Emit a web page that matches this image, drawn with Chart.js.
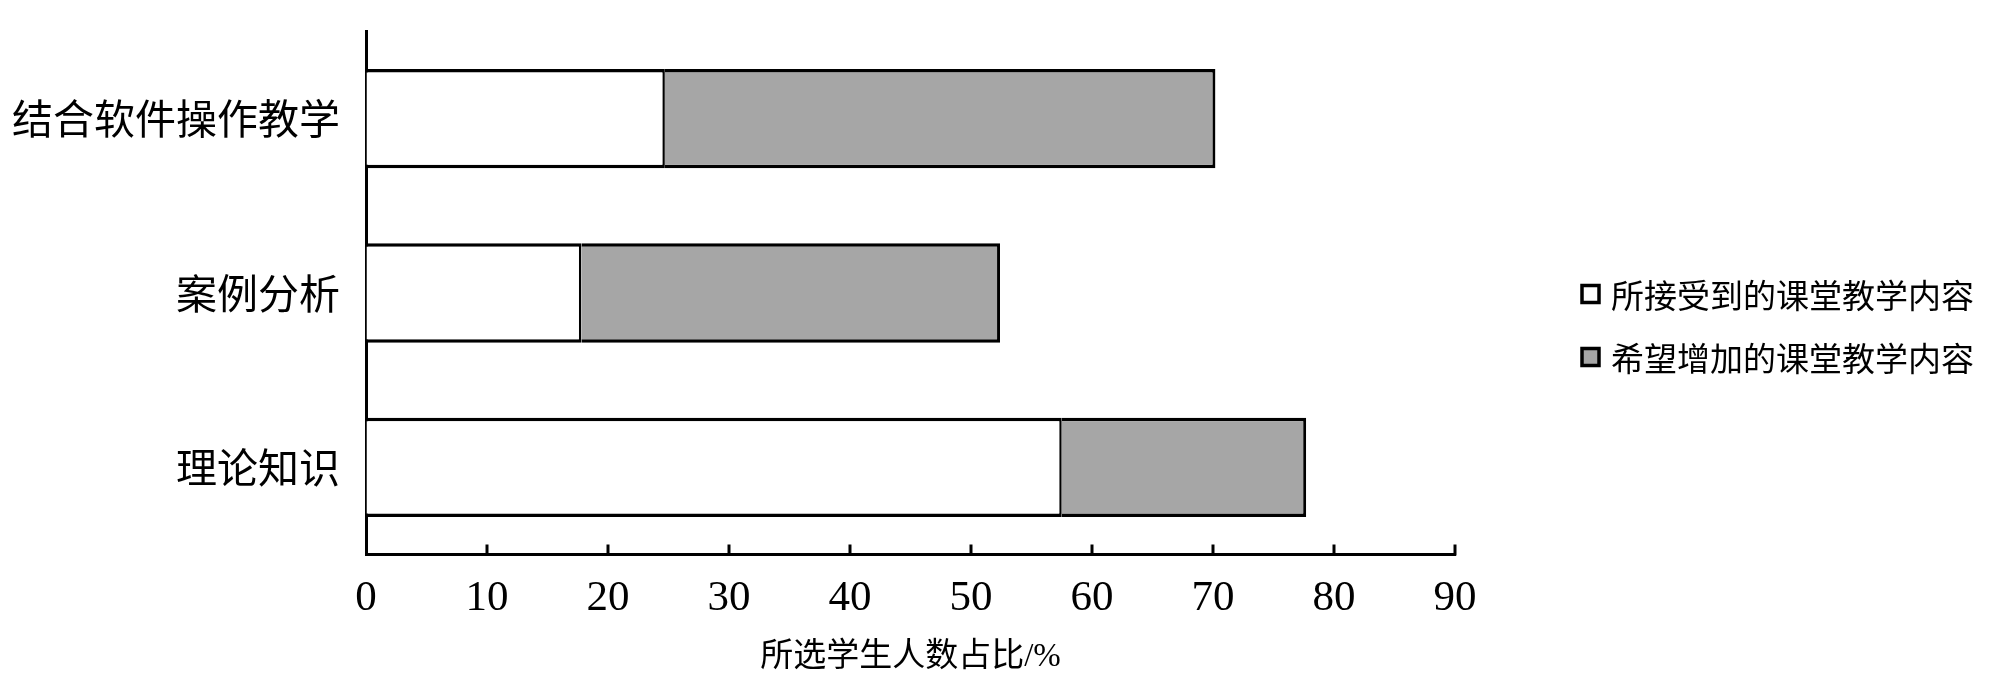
<!DOCTYPE html>
<html>
<head>
<meta charset="utf-8">
<script src="https://cdn.jsdelivr.net/npm/chart.js@4.4.1/dist/chart.umd.min.js"></script>
<style>
  html, body { margin: 0; padding: 0; background: #ffffff; }
  #wrap { width: 2000px; height: 681px; position: relative; }
</style>
</head>
<body>
<div id="wrap"><canvas id="c" width="2000" height="681"></canvas></div>
<script>
// ---- data ----
const categories = ['结合软件操作教学', '案例分析', '理论知识'];
const receivedValues = [24.7, 17.8, 57.5];
const desiredValues = [45.5, 34.6, 20.2];
const seriesNames = ['所接受到的课堂教学内容', '希望增加的课堂教学内容'];
const xTickValues = [0, 10, 20, 30, 40, 50, 60, 70, 80, 90];
const xTitle = '所选学生人数占比/%';

const CJK = "'Noto Sans CJK SC', 'Noto Sans', sans-serif";
const SERIF = "'Liberation Serif', 'Noto Sans CJK SC', serif";
const GRAY = '#a6a6a6';

// inner tick marks on x axis (upward from axis line)
const innerTicks = {
  id: 'innerTicks',
  afterDraw(chart) {
    const xs = chart.scales.x;
    const ctx = chart.ctx;
    const bottom = chart.chartArea.bottom;
    ctx.save();
    ctx.strokeStyle = '#000';
    ctx.lineWidth = 3;
    xTickValues.forEach(v => {
      if (v === 0) return;
      const px = xs.getPixelForValue(v);
      ctx.beginPath();
      ctx.moveTo(px, bottom + 1);
      ctx.lineTo(px, bottom - 10);
      ctx.stroke();
    });
    ctx.restore();
  }
};

// legend at the right side
const sideLegend = {
  id: 'sideLegend',
  afterDraw(chart) {
    const ctx = chart.ctx;
    const area = chart.chartArea;
    const cy = (area.top + area.bottom) / 2;
    const x0 = area.right + 127;
    const rows = [cy + 1, cy + 64];
    ctx.save();
    chart.data.datasets.forEach((ds, i) => {
      const y = rows[i];
      ctx.fillStyle = ds.backgroundColor;
      ctx.fillRect(x0, y - 8.5, 17, 17);
      ctx.lineWidth = 3.5;
      ctx.strokeStyle = '#000';
      ctx.strokeRect(x0, y - 8.5, 17, 17);
      ctx.fillStyle = '#000';
      ctx.font = "33px " + CJK;
      ctx.textBaseline = 'middle';
      ctx.textAlign = 'left';
      ctx.fillText(ds.label, x0 + 29, y + 1);
    });
    ctx.restore();
  }
};

new Chart(document.getElementById('c'), {
  type: 'bar',
  data: {
    labels: categories,
    datasets: [
      {
        label: seriesNames[0],
        data: receivedValues,
        backgroundColor: '#ffffff',
        borderColor: '#000000',
        borderWidth: { top: 3.5, bottom: 3.5, left: 0, right: 2.5 },
        borderSkipped: 'left'
      },
      {
        label: seriesNames[1],
        data: desiredValues,
        backgroundColor: GRAY,
        borderColor: '#000000',
        borderWidth: { top: 3.5, bottom: 3.5, left: 0, right: 3 },
        borderSkipped: 'left'
      }
    ]
  },
  options: {
    indexAxis: 'y',
    responsive: false,
    animation: false,
    maintainAspectRatio: false,
    devicePixelRatio: 1,
    barPercentage: 0.57,
    categoryPercentage: 1,
    layout: { padding: { left: 12, right: 545, top: 31.5, bottom: 0 } },
    plugins: {
      legend: { display: false },
      tooltip: { enabled: false },
      title: { display: false }
    },
    scales: {
      x: {
        type: 'linear',
        stacked: true,
        min: 0,
        max: 90,
        afterBuildTicks(scale) {
          scale.ticks = xTickValues.map(v => ({ value: v }));
        },
        afterFit(scale) { scale.height = 126.5; },
        grid: { display: true, drawOnChartArea: false, drawTicks: false, color: 'rgba(0,0,0,0)' },
        border: { display: true, color: '#000', width: 3 },
        ticks: {
          color: '#000',
          font: { family: SERIF, size: 43, lineHeight: 1 },
          padding: 23,
          maxRotation: 0,
          autoSkip: false
        },
        title: {
          display: true,
          text: xTitle,
          color: '#000',
          font: { family: SERIF, size: 33, lineHeight: 1.2 },
          padding: { top: 0, bottom: 4 }
        }
      },
      y: {
        type: 'category',
        stacked: true,
        z: 1,
        afterFit(scale) { scale.width = 354; },
        grid: { display: true, drawOnChartArea: false, drawTicks: false, color: 'rgba(0,0,0,0)' },
        border: { display: true, color: '#000', width: 3 },
        ticks: {
          color: '#000',
          font: { family: CJK, size: 41, lineHeight: 0.2 },
          padding: 26
        }
      }
    }
  },
  plugins: [innerTicks, sideLegend]
});
</script>
</body>
</html>
